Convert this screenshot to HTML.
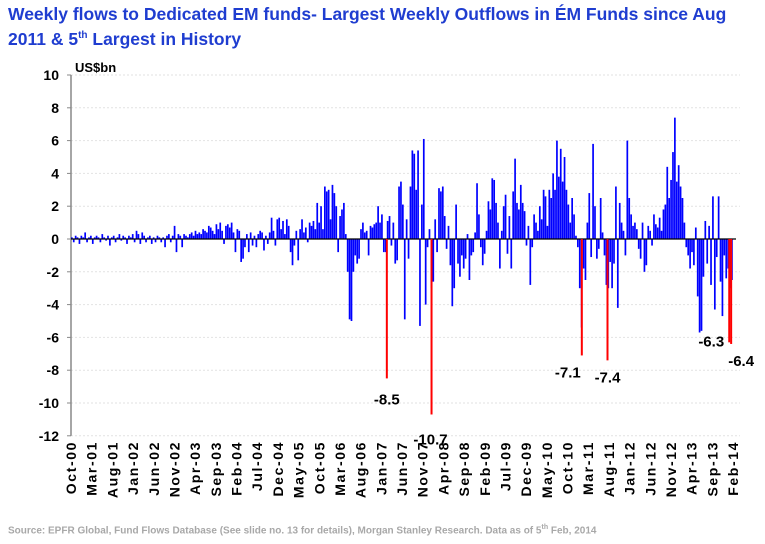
<!DOCTYPE html>
<html><head><meta charset="utf-8">
<style>
body{margin:0;width:765px;height:544px;background:#fff;overflow:hidden;font-family:"Liberation Sans",Arial,sans-serif;}
#title{position:absolute;left:8px;top:4px;width:735px;color:#1f3dd0;font-weight:bold;font-size:17.5px;line-height:21px;}
#source{position:absolute;left:8px;top:524px;color:#a8a8a8;font-size:10px;font-weight:bold;}
svg{position:absolute;left:0;top:0;}
</style></head><body>
<div id="title">Weekly flows to Dedicated EM funds- Largest Weekly Outflows in ÉM Funds since Aug 2011 &amp; 5<sup style="font-size:10px">th</sup> Largest in History</div>
<svg id="chart" width="765" height="544"></svg>
<div id="source">Source: EPFR Global, Fund Flows Database (See slide no. 13 for details), Morgan Stanley Research. Data as of 5<sup style="font-size:7px">th</sup> Feb, 2014</div>
<script>
const yTicks=[10,8,6,4,2,0,-2,-4,-6,-8,-10,-12];
const xLabels=["Oct-00","Mar-01","Aug-01","Jan-02","Jun-02","Nov-02","Apr-03","Sep-03","Feb-04","Jul-04","Dec-04","May-05","Oct-05","Mar-06","Aug-06","Jan-07","Jun-07","Nov-07","Apr-08","Sep-08","Feb-09","Jul-09","Dec-09","May-10","Oct-10","Mar-11","Aug-11","Jan-12","Jun-12","Nov-12","Apr-13","Sep-13","Feb-14"];
const flows=[0.1,-0.2,0.2,0.1,-0.3,0.2,0.1,0.4,-0.2,0.1,0.2,-0.3,0.1,0.2,0.1,-0.2,0.3,0.1,-0.1,0.2,-0.4,0.1,0.2,-0.2,0.1,0.3,-0.1,0.2,0.1,-0.3,0.2,0.1,0.3,-0.2,0.5,0.3,-0.3,0.4,0.2,-0.2,0.1,0.2,-0.3,0.1,-0.2,0.2,0.1,-0.2,0.1,-0.5,0.2,0.3,-0.2,0.2,0.8,-0.8,0.3,
0.2,-0.5,0.3,0.2,0.1,0.3,0.4,0.2,0.5,0.3,0.4,0.3,0.6,0.5,0.4,0.8,0.7,0.5,0.3,0.9,0.6,1.0,0.5,-0.3,0.8,0.9,
0.7,1.0,0.4,-0.8,0.6,0.5,-1.4,-1.2,-0.5,0.3,-0.8,0.4,-0.4,0.2,-0.5,0.3,0.5,0.4,-0.7,0.2,-0.3,0.4,1.3,0.5,-0.4,1.2,1.3,0.6,1.1,0.3,1.2,0.8,
-0.8,-1.6,-0.4,0.5,-1.3,0.6,1.2,0.4,0.7,-0.2,1.0,0.8,1.1,0.6,2.2,1.0,
2.0,0.6,3.2,2.9,3.0,1.2,3.3,2.8,2.0,-0.8,1.4,1.8,2.2,0.3,
-2.0,-4.9,-5.0,-2.0,-1.0,-1.5,-1.2,0.6,1.0,0.4,0.5,-1.0,0.8,0.7,0.9,1.0,2.0,1.0,1.5,-0.8,
-0.8,1.1,1.4,-0.4,1.0,-1.5,-1.3,3.2,
3.5,2.1,-4.9,1.2,-1.2,3.2,5.4,5.2,3.0,5.4,-5.3,2.1,6.1,-4.0,
-0.5,0.6,-3.0,-2.6,1.2,-0.8,3.1,2.9,3.2,1.4,-0.6,0.8,
-1.6,-4.1,-3.0,2.1,-1.5,-2.3,-1.0,-1.8,-1.2,0.3,-2.5,-1.0,-0.8,0.4,3.4,1.5,-0.5,-1.6,-0.9,
0.5,2.3,1.8,3.7,3.6,2.2,1.0,-1.8,0.5,2.0,2.7,-0.9,1.4,-1.8,2.9,4.9,2.2,1.8,3.3,2.2,1.7,-0.4,0.8,-2.8,
-0.5,1.5,1.0,0.5,2.0,1.2,3.0,2.6,0.8,3.0,2.5,4.0,3.0,6.0,3.8,5.5,3.5,5.0,3.0,2.1,1.0,2.5,1.5,0.2,-0.5,
-3.0,-5.4,-1.8,-2.5,1.0,2.8,-1.1,5.8,2.0,-1.2,-0.6,2.5,0.4,-1.0,
-2.8,-3.0,-1.4,-3.0,-1.5,3.2,-4.2,2.2,1.0,0.5,-1.0,6.0,2.5,1.5,
0.8,1.0,0.6,-0.6,-1.2,1.0,-2.0,-1.6,0.8,0.5,-0.4,1.5,0.9,0.7,1.3,0.5,1.8,2.1,
4.4,2.5,3.6,5.3,7.4,3.5,4.5,3.2,2.5,1.0,-0.5,
-1.0,-1.8,-0.8,-1.6,0.7,-3.5,-5.7,-5.6,-2.3,1.1,-1.5,0.8,-2.8,2.6,-4.3,-1.1,2.6,-2.6,-4.7,-1.0,-2.4,-1.8,-3.0,-2.5];
const redWeeks=[331,378,536,563,691,693];
const redValues=[-8.5,-10.7,-7.1,-7.4,-6.3,-6.4];
const redLabelDx=[0,-1,-14,0,-18,10];
const redLabelDy=[26,30,22,22,4,22];

const svg=document.getElementById('chart');
const NS='http://www.w3.org/2000/svg';
const X0=71,X1=733,TOTALW=696;
const yScale=v=>239-v*16.4;
const xScale=w=>X0+w*(X1-X0)/TOTALW;
function mk(tag,attrs,parent){const e=document.createElementNS(NS,tag);for(const k in attrs)e.setAttribute(k,attrs[k]);(parent||svg).appendChild(e);return e;}

yTicks.forEach(t=>{
  if(t!==0){const g=mk('line',{x1:X0,x2:740,y1:yScale(t),y2:yScale(t),stroke:'#e2e2e2','stroke-width':1,'stroke-dasharray':'2,2'});
  
  }
  const tk=mk('line',{x1:X0-4,x2:X0,y1:yScale(t),y2:yScale(t),stroke:'#888'});
  
  
  const tx=mk('text',{x:X0-12,y:yScale(t)+5,'text-anchor':'end','font-size':14,'font-weight':'bold',fill:'#000'});
  tx.textContent=t;
  
  
});
const ya=mk('line',{x1:X0,x2:X0,y1:yScale(10),y2:yScale(-12),stroke:'#888','stroke-width':1.5});


const unit=mk('text',{x:X0+4,y:72,'font-size':13,'font-weight':'bold',fill:'#000'});
unit.textContent='US$bn';



flows.forEach((v,i)=>{
  const x=xScale(i*2);
  const y0=yScale(Math.max(v,0)),h=Math.abs(v)*16.4;
  const r=mk('rect',{x:x,y:y0,width:1.7,height:Math.max(h,0.6),fill:'#0000ff'});
  
  
});
const za=mk('line',{x1:X0,x2:736,y1:yScale(0),y2:yScale(0),stroke:'#000','stroke-width':1.2});



redWeeks.forEach((w,i)=>{
  const x=xScale(w);
  const r=mk('rect',{x:x,y:yScale(0),width:2,height:-redValues[i]*16.4,fill:'#ff0000'});
  
  
  const t=mk('text',{x:x+1+redLabelDx[i],y:yScale(redValues[i])+redLabelDy[i],'text-anchor':'middle','font-size':15,'font-weight':'bold',fill:'#000'});
  t.textContent=redValues[i].toFixed(1);
  
  
});

const step=(X1-X0)/(xLabels.length-1);
xLabels.forEach((l,i)=>{
  const x=X0+i*step;
  const t=mk('text',{transform:`translate(${x+5},441) rotate(-90)`,'text-anchor':'end','font-size':14,'font-weight':'bold','letter-spacing':'1.6',fill:'#000'});
  t.textContent=l;
  
  
});
</script>
</body></html>
